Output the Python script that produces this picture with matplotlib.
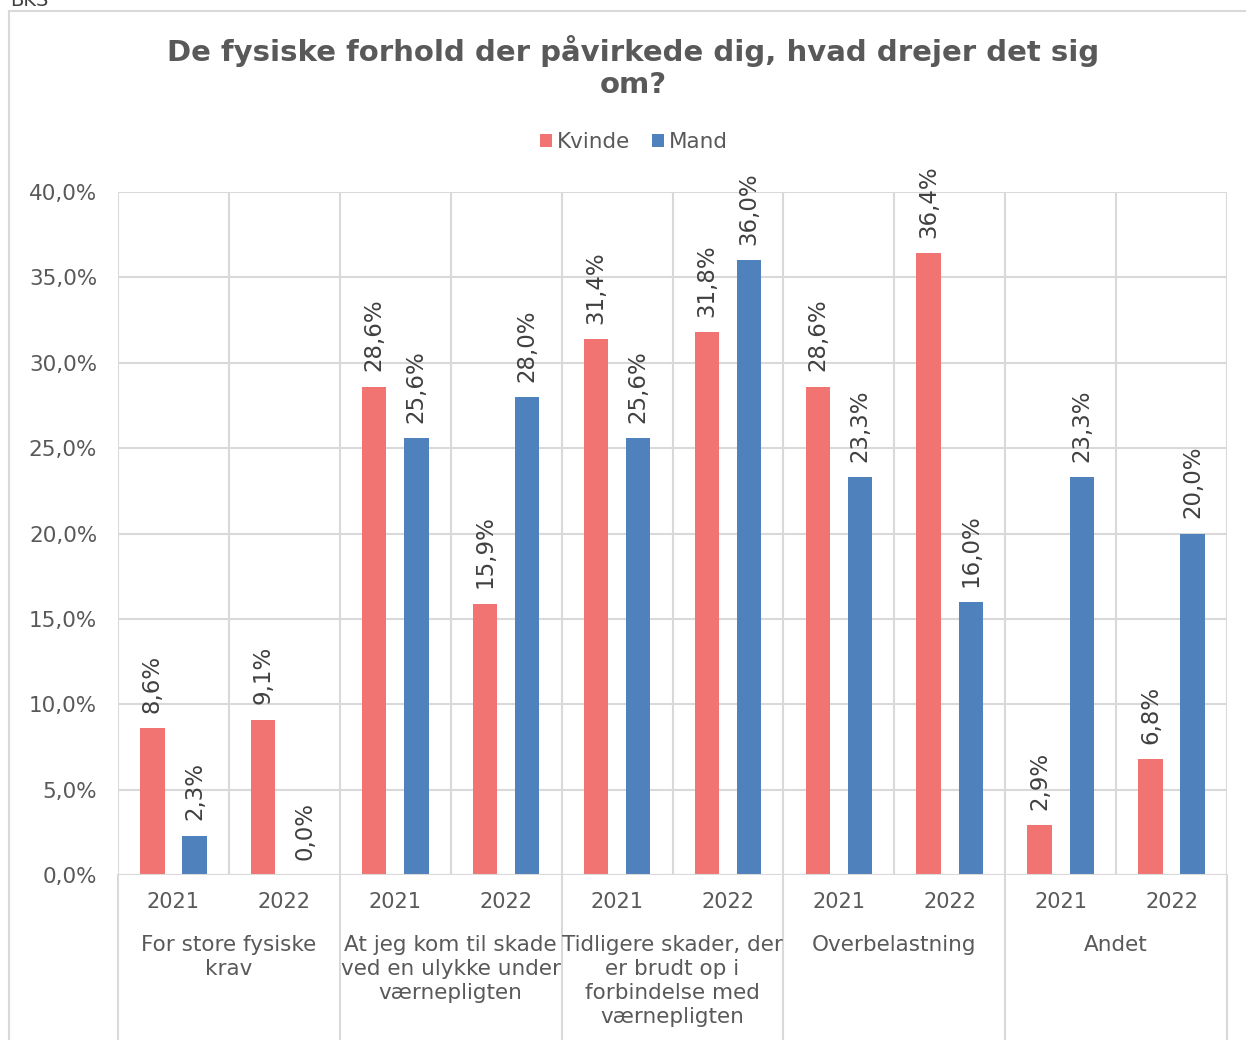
import matplotlib.pyplot as plt
from matplotlib.patches import Rectangle
import numpy as np

plt.rcParams['font.family'] = ['DejaVu Sans']

# data
groups = ['For store fysiske\nkrav',
          'At jeg kom til skade\nved en ulykke under\nværnepligten',
          'Tidligere skader, der\ner brudt op i\nforbindelse med\nværnepligten',
          'Overbelastning',
          'Andet']
years = ['2021', '2022']
kvinde = [8.6, 9.1, 28.6, 15.9, 31.4, 31.8, 28.6, 36.4, 2.9, 6.8]
mand = [2.3, 0.0, 25.6, 28.0, 25.6, 36.0, 23.3, 16.0, 23.3, 20.0]

c_kvinde = '#F27472'
c_mand = '#4F81BD'
txt = '#595959'
grid_c = '#D9D9D9'

W, H = 1246, 1040
fig = plt.figure(figsize=(W / 100, H / 100), dpi=100)

# outer chart frame
fig.patches.append(Rectangle((9 / W, -0.05), 1.1, (H - 11) / H + 0.05, transform=fig.transFigure,
                             fill=False, edgecolor=grid_c, linewidth=1.5))
fig.text(10 / W, 1.0, 'BKS', fontsize=14, color='#404040', va='center', ha='left')

left, right, top, bottom = 118, 1227, 192, 875
ax = fig.add_axes([left / W, (H - bottom) / H, (right - left) / W, (bottom - top) / H])

n = len(kvinde)
x = np.arange(n)
bw = 0.22
off = 0.19
ax.bar(x - off, kvinde, bw, color=c_kvinde, label='Kvinde', zorder=3)
ax.bar(x + off, mand, bw, color=c_mand, label='Mand', zorder=3)

for xi, v in zip(x - off, kvinde):
    ax.annotate(f'{v:.1f}%'.replace('.', ','), (xi, v), xytext=(0, 11), textcoords='offset points',
                rotation=90, ha='center', va='bottom', fontsize=16.5, color='#404040')
for xi, v in zip(x + off, mand):
    ax.annotate(f'{v:.1f}%'.replace('.', ','), (xi, v), xytext=(0, 11), textcoords='offset points',
                rotation=90, ha='center', va='bottom', fontsize=16.5, color='#404040')

ax.set_xlim(-0.5, n - 0.5)
ax.set_ylim(0, 40)
ax.set_yticks(np.arange(0, 41, 5))
ax.set_yticklabels([f'{v:.1f}%'.replace('.', ',') for v in np.arange(0, 41, 5)])
ax.tick_params(axis='y', length=0, labelsize=15.5, labelcolor=txt, pad=15)
ax.set_xticks([])
ax.grid(axis='y', color=grid_c, linewidth=1.5, zorder=0)
for s in ax.spines.values():
    s.set_visible(False)
ax.axhline(0, color=grid_c, linewidth=1.5, zorder=4)

# vertical lines between every year column
for b in np.arange(-0.5, n, 1):
    ax.axvline(b, color=grid_c, linewidth=1.5, zorder=1)

# multi-level category axis below the plot
px = (bottom - top) / 40.0  # pixels per percent
for i in range(n):
    ax.text(i, -27 / px, years[i % 2], ha='center', va='center', fontsize=15, color=txt)
for g, name in enumerate(groups):
    ax.text(2 * g + 0.5, -60 / px, name, ha='center', va='top', fontsize=15.5, color=txt,
            linespacing=1.25)
for b in np.arange(-0.5, n + 0.5, 2):
    ax.plot([b, b], [0, -200 / px], color=grid_c, linewidth=1.5, clip_on=False)

fig.text(0.508, 1 - 67 / H, 'De fysiske forhold der påvirkede dig, hvad drejer det sig\nom?',
         ha='center', va='center', fontsize=21, fontweight='bold', color=txt, linespacing=1.15)
fig.legend(loc='center', bbox_to_anchor=(0.509, 1 - 142 / H), ncol=2, frameon=False,
           fontsize=15.5, handlelength=0.55, handleheight=0.55, handletextpad=0.25,
           columnspacing=1.0, labelcolor=txt)

fig.savefig('out.png', dpi=100)
